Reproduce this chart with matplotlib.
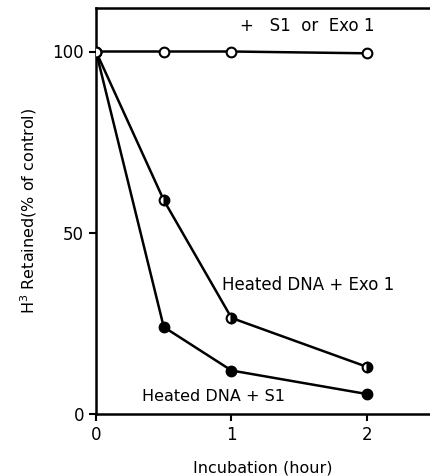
import matplotlib.pyplot as plt

# incubation time (hour)
hours = [0, 0.5, 1, 2]
# H3 retained (% of control)
control = [100, 100, 100, 99.5]
heated_exo = [100, 59, 26.5, 13]
heated_s1 = [100, 24, 12, 5.5]

fig = plt.figure(figsize=(4.30, 4.76), dpi=100)
ax = fig.add_axes([96/430, 62/476, 334/430, 406/476])

ax.plot(hours, heated_exo, '-o', color='black', lw=1.8, ms=7,
        fillstyle='right', mfc='black', mfcalt='white', mec='black', mew=1.5)
ax.plot(hours, heated_s1, '-o', color='black', lw=1.8, ms=7,
        mfc='black', mec='black', mew=1.5)
ax.plot(hours, control, '-o', color='black', lw=1.8, ms=7,
        mfc='white', mec='black', mew=1.5, zorder=3)

ax.set_xlim(0, 2.465)
ax.set_ylim(0, 112)
ax.set_xticks([0, 1, 2])
ax.set_yticks([0, 50, 100])
ax.spines['right'].set_visible(False)
for s in ['left', 'top', 'bottom']:
    ax.spines[s].set_linewidth(1.8)
ax.tick_params(direction='out', length=5, width=1.5, labelsize=12)

ax.text(1.06, 107, '+   S1  or  Exo 1', fontsize=12, va='center')
ax.text(0.93, 35.5, 'Heated DNA + Exo 1', fontsize=12, va='center')
ax.text(0.34, 4.8, 'Heated DNA + S1', fontsize=11.5, va='center')

ax.set_xlabel('Incubation (hour)', fontsize=11.5, labelpad=12)
ax.set_ylabel('H$^3$ Retained(% of control)', fontsize=11.5, labelpad=10)

plt.savefig('out.png', dpi=100)
